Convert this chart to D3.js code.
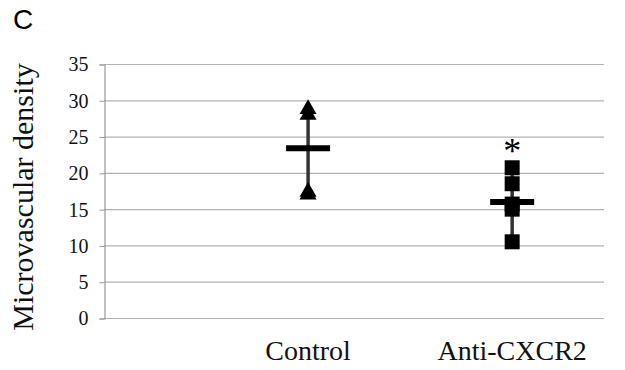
<!DOCTYPE html>
<html>
<head>
<meta charset="utf-8">
<script src="https://cdn.jsdelivr.net/npm/d3@7"></script>
<style>
  body { margin: 0; background: #fff; }
  svg { display: block; }
</style>
</head>
<body>
<svg id="chart" width="625" height="370"></svg>
<script>
// data
var categories = ['Control', 'Anti-CXCR2'];
var catPos = [1, 2];
var controlValues = [28.8, 28.0, 17.4, 17.0];
var antiValues = [20.7, 18.5, 15.7, 15.0, 10.5];
var groupMeans = [23.4, 16.0];
var yTicks = [0, 5, 10, 15, 20, 25, 30, 35];
var significant = [false, true];

var serif = '"Liberation Serif", "Times New Roman", Times, "DejaVu Serif", serif';

var svg = d3.select('#chart');
var plotLeft = 104, plotRight = 604, plotTop = 64, plotBottom = 318;

var y = d3.scaleLinear().domain([0, 35]).range([plotBottom, plotTop]);
var x = d3.scaleLinear().domain([0, 2.45]).range([plotLeft, plotRight]);

// grid lines
svg.append('g')
	.selectAll('line')
	.data(yTicks)
	.enter().append('line')
	.attr('x1', plotLeft).attr('x2', plotRight)
	.attr('y1', d => y(d) + 0.5).attr('y2', d => y(d) + 0.5)
	.attr('stroke', '#b3b3b3')
	.attr('stroke-width', 1.2);

// y axis
var yAxis = svg.append('g')
	.attr('transform', 'translate(' + (plotLeft + 0.5) + ',0.5)')
	.call(d3.axisLeft(y).tickValues(yTicks).tickSize(5).tickPadding(11));
yAxis.attr('font-family', null).attr('font-size', null);
yAxis.select('.domain').attr('stroke', '#999').attr('stroke-width', 1.2);
yAxis.selectAll('.tick line').attr('stroke', '#999');
yAxis.selectAll('.tick text')
	.attr('fill', '#111')
	.style('font-family', serif)
	.style('font-size', '20px');

var groups = [
	{ name: categories[0], pos: catPos[0], values: controlValues, mean: groupMeans[0], shape: d3.symbolTriangle, size: 125, star: significant[0] },
	{ name: categories[1], pos: catPos[1], values: antiValues, mean: groupMeans[1], shape: d3.symbolSquare, size: 225, star: significant[1] }
];

groups.forEach(function (g) {
	var cx = x(g.pos);
	// range line
	svg.append('line')
		.attr('x1', cx).attr('x2', cx)
		.attr('y1', y(d3.max(g.values))).attr('y2', y(d3.min(g.values)))
		.attr('stroke', '#333')
		.attr('stroke-width', 3.5);
	// points
	svg.append('g')
		.selectAll('path')
		.data(g.values)
		.enter().append('path')
		.attr('d', d3.symbol().type(g.shape).size(g.size))
		.attr('transform', d => 'translate(' + cx + ',' + y(d) + ')')
		.attr('fill', '#000');
	// mean bar
	svg.append('line')
		.attr('x1', cx - 22).attr('x2', cx + 22)
		.attr('y1', y(g.mean)).attr('y2', y(g.mean))
		.attr('stroke', '#000')
		.attr('stroke-width', 6);
	if (g.star) {
		svg.append('text')
			.attr('x', cx).attr('y', y(d3.max(g.values)) - 5)
			.attr('text-anchor', 'middle')
			.style('font-family', serif)
			.style('font-size', '36px')
			.text('*');
	}
	// category label
	svg.append('text')
		.attr('x', cx).attr('y', 360)
		.attr('text-anchor', 'middle')
		.attr('fill', '#111')
		.style('font-family', serif)
		.style('font-size', '28px')
		.text(g.name);
});

// y title
svg.append('text')
	.attr('transform', 'translate(33,197) rotate(-90)')
	.attr('text-anchor', 'middle')
	.attr('fill', '#111')
	.style('font-family', serif)
	.style('font-size', '30px')
	.text('Microvascular density');

// panel letter
svg.append('text')
	.attr('x', 13).attr('y', 29)
	.style('font-family', '"Liberation Sans", Arial, sans-serif')
	.style('font-size', '28px')
	.text('C');
</script>
</body>
</html>
